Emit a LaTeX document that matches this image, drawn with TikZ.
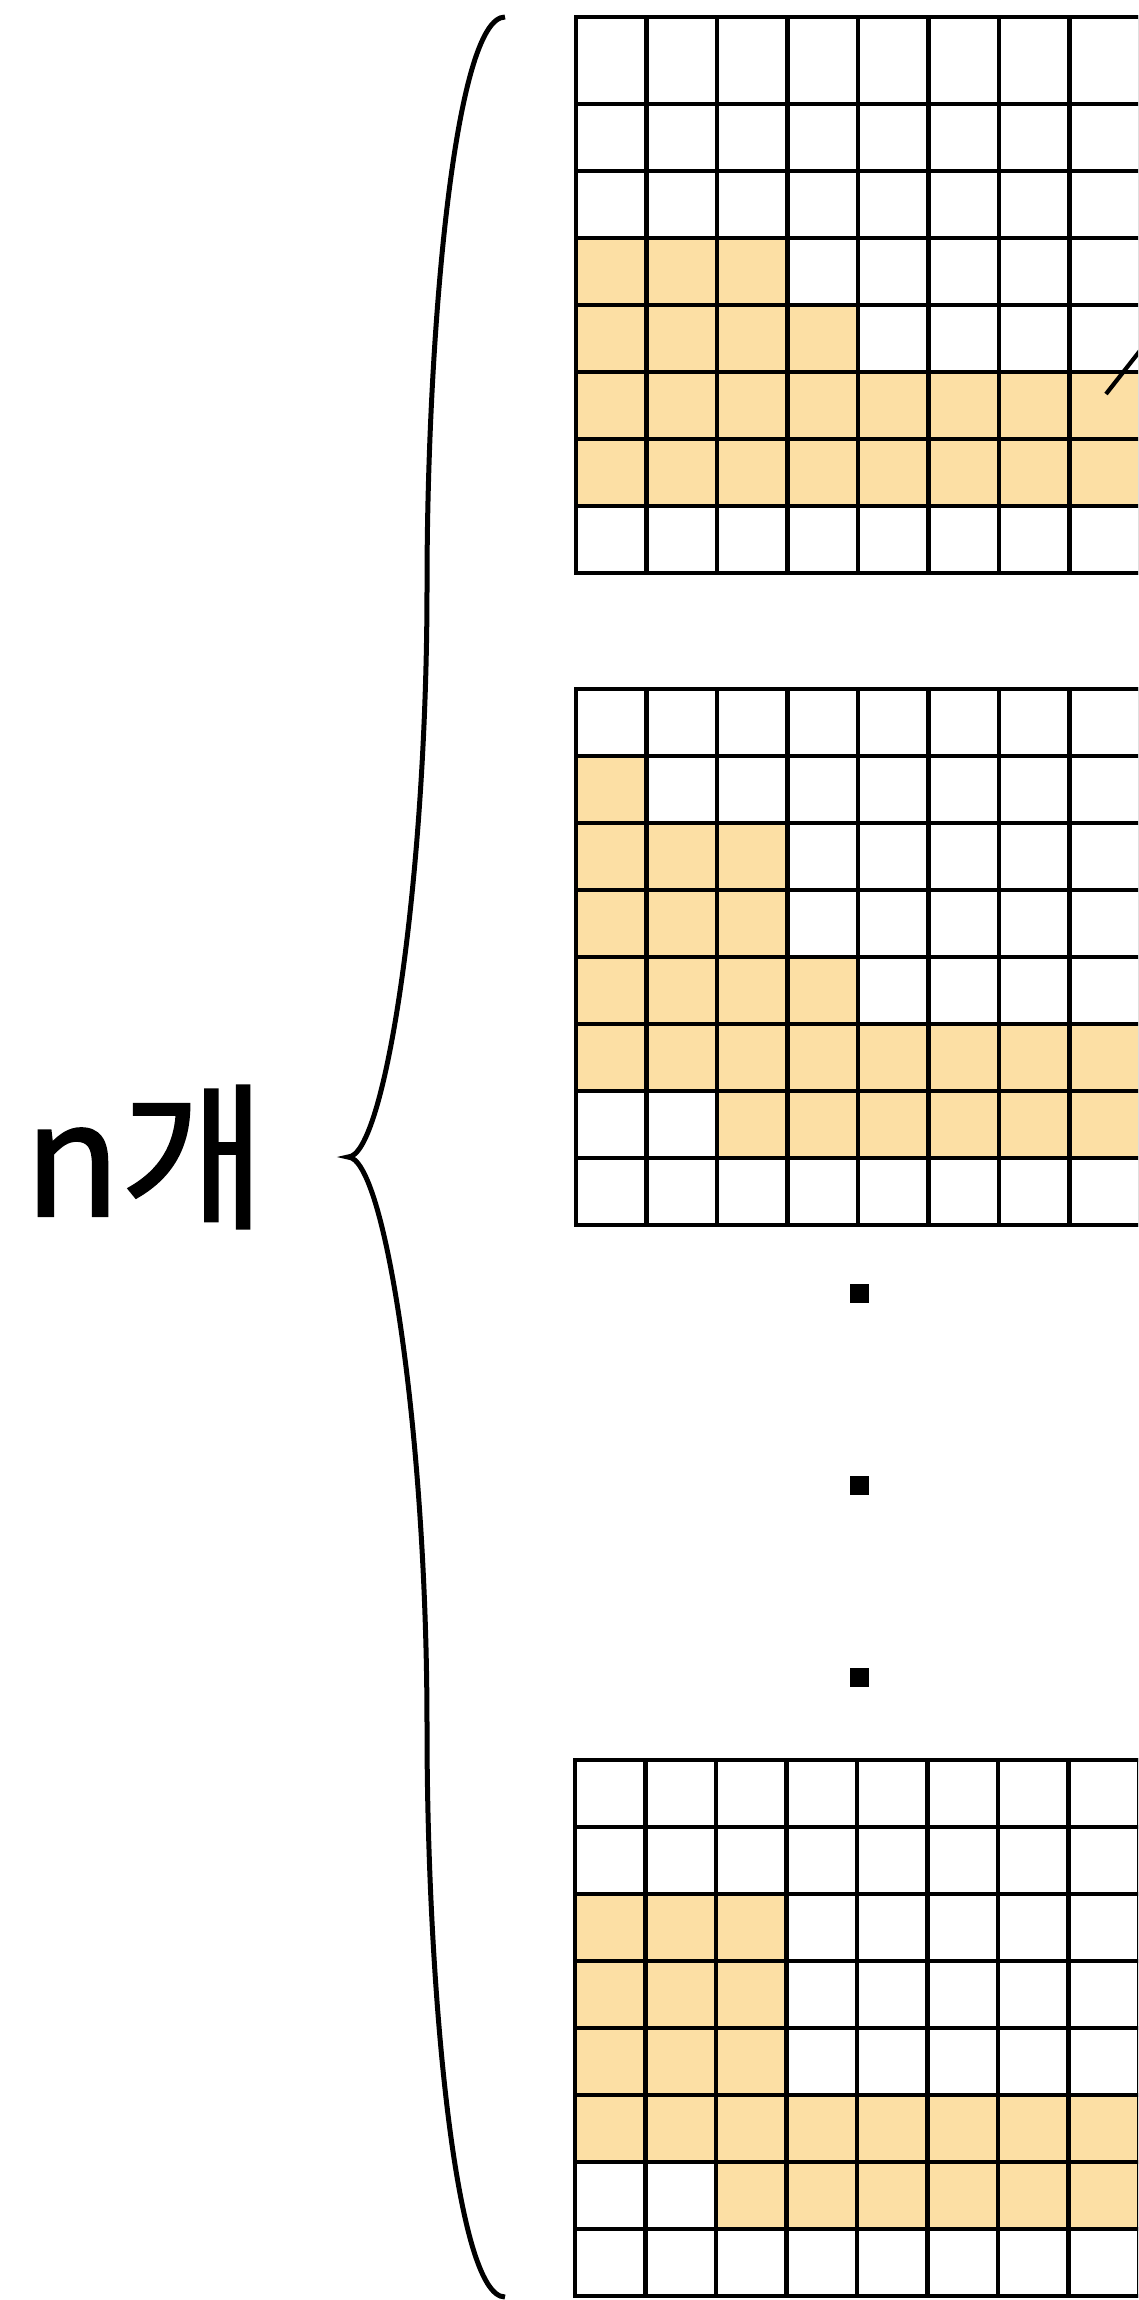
\documentclass[tikz,border=0pt]{standalone}
\usepackage{fontspec}
\newfontfamily\kofont{Noto Sans CJK KR}[FakeBold=1.3]
\definecolor{cellfill}{RGB}{252,223,164}

\begin{document}
\begin{tikzpicture}[x=1pt, y=-1pt,
  hl/.style={fill=cellfill},
  gridline/.style={black, line width=4.2pt, line cap=rect}]

% 그림 크기 고정 (오른쪽 끝은 잘림)
\useasboundingbox (0,0) rectangle (1138,2300);
\clip (0,0) rectangle (1138,2300);

% 왼쪽 중괄호
\coordinate (Top) at (505,17);
\coordinate (Tip) at (348,1157);
\coordinate (Bot) at (505,2297);
\draw[line width=5pt] (Top) .. controls (455,17) and (427,330) .. (427,587)
  .. controls (427,880) and (385,1157) .. (Tip)
  .. controls (385,1157) and (427,1434) .. (427,1727)
  .. controls (427,1984) and (455,2297) .. (Bot);

% 개수 표시
\node[font=\kofont\fontsize{158}{160}\selectfont, inner sep=0pt] (count) at (145,1157) {n개};

% 첫 번째 격자 (맨 윗줄만 더 높음)
\fill[hl] (576,238) rectangle ++(211.5,67);
\fill[hl] (576,305) rectangle ++(282,67);
\fill[hl] (576,372) rectangle ++(634.5,134);
\foreach \i in {0,...,9}
  \draw[gridline] ({576+70.5*\i},17) -- ({576+70.5*\i},573);
\draw[gridline] (576,17) -- (1200,17);
\foreach \k in {0,...,7}
  \draw[gridline] (576,{104+67*\k}) -- (1200,{104+67*\k});
% 오른쪽 끝 사선
\draw[line width=4.2pt] (1106,394) -- (1150,338);

% 두 번째 격자
\begin{scope}[shift={(0,689)}]
  \fill[hl] (576,67) rectangle ++(70.5,67);
  \fill[hl] (576,134) rectangle ++(211.5,134);
  \fill[hl] (576,268) rectangle ++(282,67);
  \fill[hl] (576,335) rectangle ++(634.5,67);
  \fill[hl] (717,402) rectangle ++(493.5,67);
  \foreach \i in {0,...,9}
    \draw[gridline] ({576+70.5*\i},0) -- ({576+70.5*\i},536);
  \foreach \k in {0,...,8}
    \draw[gridline] (576,{67*\k}) -- (1200,{67*\k});
\end{scope}

% 생략 점
\foreach \y in {1293,1485,1677}
  \fill (850,{\y-9.5}) rectangle ++(19,19);

% 마지막 격자
\begin{scope}[shift={(-1,1760)}]
  \fill[hl] (576,134) rectangle ++(211.5,201);
  \fill[hl] (576,335) rectangle ++(634.5,67);
  \fill[hl] (717,402) rectangle ++(493.5,67);
  \foreach \i in {0,...,9}
    \draw[gridline] ({576+70.5*\i},0) -- ({576+70.5*\i},536);
  \foreach \k in {0,...,8}
    \draw[gridline] (576,{67*\k}) -- (1200,{67*\k});
\end{scope}

\end{tikzpicture}
\end{document}
